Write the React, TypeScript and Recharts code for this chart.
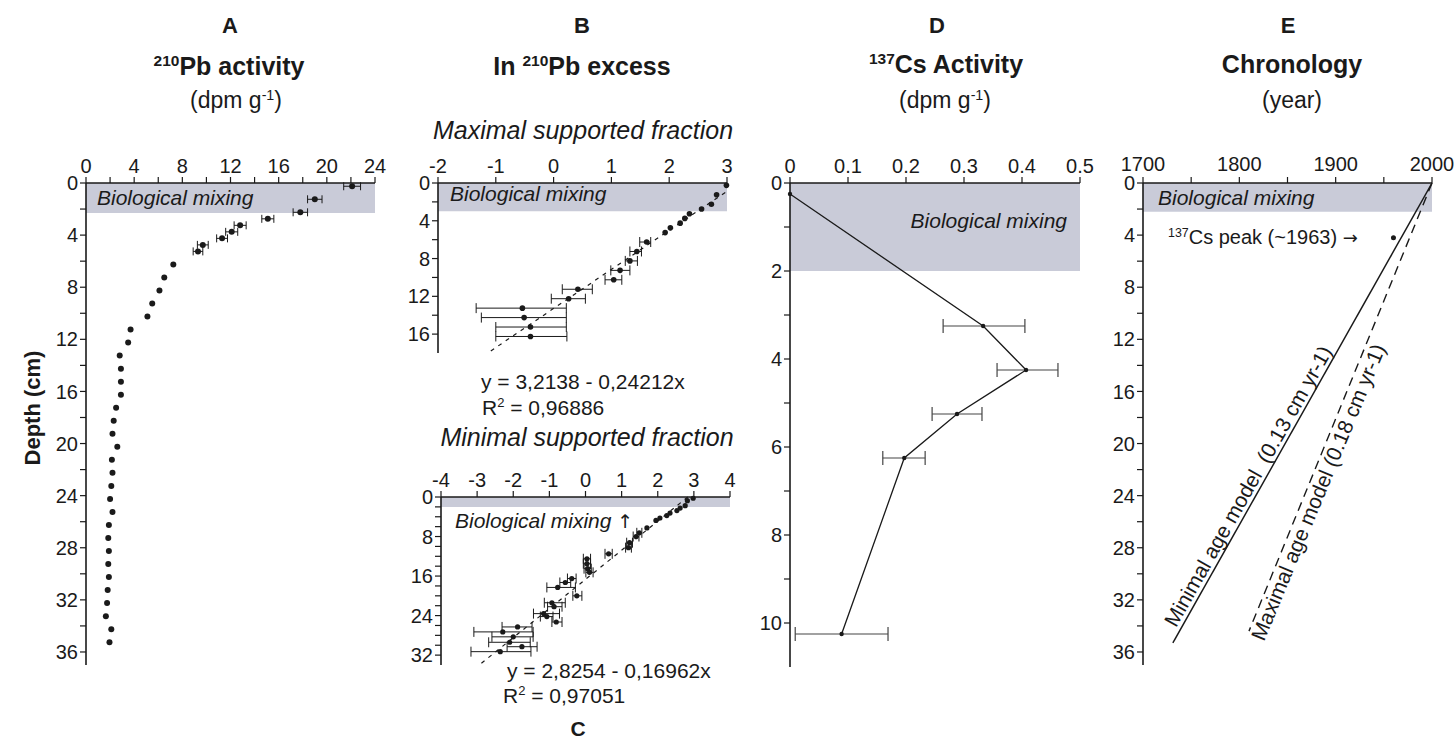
import React from "react";
import { ScatterChart, Scatter, XAxis, YAxis, ErrorBar, ReferenceArea } from "recharts";

const FONT = '"Liberation Sans", Arial, Helvetica, sans-serif';
const INK = "#1a1a1a";
const BAND = "#c9cbd8";

// A - 210Pb activity (dpm/g) vs depth (cm)
const depthA = [0.25, 1.25, 2.25, 2.75, 3.25, 3.75, 4.25, 4.75, 5.25, 6.25, 7.25, 8.25, 9.25, 10.25, 11.25, 12.25, 13.25, 14.25, 15.25, 16.25, 17.25, 18.25, 19.25, 20.25, 21.25, 22.25, 23.25, 24.25, 25.25, 26.25, 27.25, 28.25, 29.25, 30.25, 31.25, 32.25, 33.25, 34.25, 35.25];
const pbA = [22.1, 19.0, 17.8, 15.1, 12.8, 12.1, 11.3, 9.7, 9.3, 7.25, 6.5, 6.1, 5.5, 5.1, 3.7, 3.5, 2.8, 2.9, 2.9, 2.9, 2.5, 2.3, 2.2, 2.6, 2.15, 2.2, 2.1, 2.0, 2.2, 1.9, 1.85, 1.9, 1.85, 1.9, 1.8, 1.75, 1.65, 2.1, 1.95];
const errA = [0.7, 0.6, 0.6, 0.5, 0.5, 0.5, 0.45, 0.45, 0.4];
const ticksAx = [0, 2, 4, 6, 8, 10, 12, 14, 16, 18, 20, 22, 24];
const ticksDepth36 = [0, 2, 4, 6, 8, 10, 12, 14, 16, 18, 20, 22, 24, 26, 28, 30, 32, 34, 36];

// B - ln 210Pb excess, maximal supported fraction
const depthB = [0.25, 1.25, 2.25, 2.75, 3.25, 3.75, 4.25, 4.75, 5.25, 6.25, 7.25, 8.25, 9.25, 10.25, 11.25, 12.25, 13.25, 14.25, 15.25, 16.25];
const lnB = [2.99, 2.82, 2.73, 2.56, 2.35, 2.27, 2.19, 2.02, 1.93, 1.61, 1.44, 1.32, 1.15, 1.04, 0.42, 0.26, -0.54, -0.51, -0.4, -0.4];
const loB = [null, null, null, null, null, null, null, null, null, 1.49, 1.32, 1.24, 0.99, 0.89, 0.15, -0.04, -1.34, -1.25, -1.0, -1.0];
const hiB = [null, null, null, null, null, null, null, null, null, 1.68, 1.52, 1.45, 1.32, 1.18, 0.67, 0.55, 0.22, 0.22, 0.22, 0.23];
const fitBDepth = [1, 18];
const fitBLn = [2.97, -1.14];
const ticksBx = [-2, -1, 0, 1, 2, 3];
const ticksBy = [0, 2, 4, 6, 8, 10, 12, 14, 16];

// C - ln 210Pb excess, minimal supported fraction
const depthC = [0.25, 0.75, 1.75, 2.25, 2.75, 3.25, 3.75, 4.25, 4.75, 6.25, 7.25, 8.0, 9.25, 10.25, 11.5, 12.5, 13.5, 14.5, 15.25, 16.5, 17.3, 18.3, 20.0, 21.4, 22.2, 23.6, 24.2, 25.3, 26.3, 27.3, 28.3, 29.4, 30.3, 31.3];
const lnC = [2.98, 2.82, 2.76, 2.62, 2.53, 2.34, 2.25, 2.06, 1.95, 1.7, 1.49, 1.4, 1.22, 1.19, 0.64, 0.04, 0.04, 0.06, 0.11, -0.38, -0.56, -0.77, -0.24, -0.93, -0.87, -1.16, -1.07, -0.81, -1.88, -2.29, -2.0, -2.1, -1.76, -2.36];
const loC = [null, null, null, null, null, null, null, null, null, null, 1.42, 1.32, 1.14, 1.11, 0.54, -0.06, -0.06, -0.04, 0.01, -0.5, -0.71, -1.07, -0.35, -1.14, -1.05, -1.44, -1.25, -0.93, -2.31, -3.09, -2.59, -2.68, -2.17, -3.17];
const hiC = [null, null, null, null, null, null, null, null, null, null, 1.56, 1.48, 1.3, 1.27, 0.74, 0.14, 0.14, 0.16, 0.21, -0.26, -0.41, -0.28, -0.1, -0.56, -0.65, -0.72, -0.9, -0.65, -1.48, -1.45, -1.45, -1.53, -1.34, -1.51];
const fitCDepth = [0, 34];
const fitCLn = [2.83, -2.94];
const ticksCx = [-4, -3, -2, -1, 0, 1, 2, 3, 4];
const ticksCy = [0, 2, 4, 6, 8, 10, 12, 14, 16, 18, 20, 22, 24, 26, 28, 30, 32];

// D - 137Cs activity
const depthD = [0.25, 3.25, 4.25, 5.25, 6.25, 10.25];
const csD = [0, 0.333, 0.407, 0.288, 0.197, 0.089];
const loD = [null, 0.264, 0.357, 0.245, 0.16, 0.009];
const hiD = [null, 0.405, 0.462, 0.331, 0.233, 0.169];
const ticksDx = [0, 0.1, 0.2, 0.3, 0.4, 0.5];
const ticksDy = [0, 1, 2, 3, 4, 5, 6, 7, 8, 9, 10];

// E - chronology
const minYears = [2000, 1731];
const minDepth = [0, 35.3];
const maxYears = [2000, 1810];
const maxDepth = [0, 34.4];
const peakYear = [1960];
const peakDepth = [4.2];
const ticksEx = [1700, 1750, 1800, 1850, 1900, 1950, 2000];

const YW = 50;
const XH = 40;
const PADR = 30;
const PADB = 12;

const frame = (left: number, top: number, w: number, h: number) => ({
  style: { position: "absolute" as const, left: left - YW, top: top - XH },
  width: YW + w + PADR,
  height: XH + h + PADB,
});

const every = (n: number) => (v: number) => (Math.abs(v % n) < 1e-9 ? String(v) : "");

const axis = {
  axisLine: { stroke: INK, strokeWidth: 1.6 },
  tickLine: { stroke: INK, strokeWidth: 1.2 },
  tickSize: 6,
  tick: { fontSize: 20, fill: INK, fontFamily: FONT },
  interval: 0 as const,
};
// top axes: labels lifted a little
const topAxis = { ...axis, tick: { ...axis.tick, dy: -2 } };
const topAxisE = { ...axis, tick: { ...axis.tick, dy: -4 } };

const dot = (r: number) => (p: any) => <circle cx={p.cx} cy={p.cy} r={r} fill={INK} />;
const none = () => <g />;

const withErr = (xs: number[], ys: number[], lo: (number | null)[], hi: (number | null)[]) =>
  xs.map((x, i) => ({
    x,
    y: ys[i],
    ex: lo[i] == null || hi[i] == null ? null : [x - (lo[i] as number), (hi[i] as number) - x],
  }));

const pairs = (xs: number[], ys: number[]) => xs.map((x, i) => ({ x, y: ys[i] }));

const rowsA = depthA.map((d, i) => ({ x: pbA[i], y: d, ex: errA[i] ?? null }));
const rowsB = withErr(lnB, depthB, loB, hiB);
const rowsC = withErr(lnC, depthC, loC, hiC);
const rowsD = withErr(csD, depthD, loD, hiD);

const margin = { top: 0, left: 0, right: PADR, bottom: PADB };

function Txt({ x, y, children, size = 21, bold = false, italic = false, anchor = "middle", rotate = 0 }: any) {
  const tx = anchor === "middle" ? "-50%" : anchor === "end" ? "-100%" : "0";
  return (
    <div
      style={{
        position: "absolute",
        left: x,
        top: y,
        transform: `translate(${tx},-50%) rotate(${rotate}deg)`,
        fontSize: size,
        fontWeight: bold ? 700 : 400,
        fontStyle: italic ? "italic" : "normal",
        whiteSpace: "nowrap",
        lineHeight: 1,
        color: INK,
      }}
    >
      {children}
    </div>
  );
}

const sup = (s: string) => <sup style={{ fontSize: "0.62em", verticalAlign: "0.55em" }}>{s}</sup>;
const arrow = (s: string) => (
  <span style={{ fontFamily: '"DejaVu Sans", sans-serif', fontStyle: "normal", fontSize: "0.9em", color: INK }}>{s + "\uFE0E"}</span>
);

export default function App() {
  const fA = frame(86, 183, 289, 482);
  const fB = frame(438, 183, 289, 170);
  const fC = frame(441, 497, 289, 168);
  const fD = frame(790, 183, 290, 484);
  const fE = frame(1143, 183, 289, 482);

  return (
    <div style={{ position: "absolute", left: 0, top: 0, width: 1456, height: 741, background: "#fff", fontFamily: FONT }}>
      {/* A */}
      <div style={fA.style}>
        <ScatterChart width={fA.width} height={fA.height} margin={margin}>
          <XAxis type="number" dataKey="x" orientation="top" domain={[0, 24]} ticks={ticksAx} tickFormatter={every(4)} height={XH} {...topAxis} />
          <YAxis type="number" dataKey="y" reversed domain={[0, 37]} ticks={ticksDepth36} tickFormatter={every(4)} width={YW} {...axis} />
          <ReferenceArea x1={0} x2={24} y1={0} y2={2.3} fill={BAND} fillOpacity={1} stroke="none" />
          <Scatter data={rowsA} shape={dot(3)} isAnimationActive={false}>
            <ErrorBar dataKey="ex" direction="x" width={4} stroke={INK} strokeWidth={1} isAnimationActive={false} />
          </Scatter>
        </ScatterChart>
      </div>

      {/* B */}
      <div style={fB.style}>
        <ScatterChart width={fB.width} height={fB.height} margin={margin}>
          <XAxis type="number" dataKey="x" orientation="top" domain={[-2, 3]} ticks={ticksBx} height={XH} {...topAxis} />
          <YAxis type="number" dataKey="y" reversed domain={[0, 18]} ticks={ticksBy} tickFormatter={every(4)} width={YW} {...axis} />
          <ReferenceArea x1={-2} x2={3} y1={0} y2={3} fill={BAND} fillOpacity={1} stroke="none" />
          <Scatter data={pairs(fitBLn, fitBDepth)} shape={none} line={{ stroke: INK, strokeWidth: 1.2, strokeDasharray: "4 5" }} isAnimationActive={false} />
          <Scatter data={rowsB} shape={dot(2.8)} isAnimationActive={false}>
            <ErrorBar dataKey="ex" direction="x" width={5} stroke={INK} strokeWidth={1} isAnimationActive={false} />
          </Scatter>
        </ScatterChart>
      </div>

      {/* C */}
      <div style={fC.style}>
        <ScatterChart width={fC.width} height={fC.height} margin={margin}>
          <XAxis type="number" dataKey="x" orientation="top" domain={[-4, 4]} ticks={ticksCx} height={XH} {...topAxis} />
          <YAxis type="number" dataKey="y" reversed domain={[0, 34]} ticks={ticksCy} tickFormatter={every(8)} width={YW} {...axis} />
          <ReferenceArea x1={-4} x2={4} y1={0} y2={2} fill={BAND} fillOpacity={1} stroke="none" />
          <Scatter data={pairs(fitCLn, fitCDepth)} shape={none} line={{ stroke: INK, strokeWidth: 1.2, strokeDasharray: "4 5" }} isAnimationActive={false} />
          <Scatter data={rowsC} shape={dot(2.6)} isAnimationActive={false}>
            <ErrorBar dataKey="ex" direction="x" width={5} stroke={INK} strokeWidth={1} isAnimationActive={false} />
          </Scatter>
        </ScatterChart>
      </div>

      {/* D */}
      <div style={fD.style}>
        <ScatterChart width={fD.width} height={fD.height} margin={margin}>
          <XAxis type="number" dataKey="x" orientation="top" domain={[0, 0.5]} ticks={ticksDx} height={XH} {...topAxis} />
          <YAxis type="number" dataKey="y" reversed domain={[0, 11]} ticks={ticksDy} tickFormatter={every(2)} width={YW} {...axis} />
          <ReferenceArea x1={0} x2={0.5} y1={0} y2={2} fill={BAND} fillOpacity={1} stroke="none" />
          <Scatter data={rowsD} shape={dot(2.2)} line={{ stroke: INK, strokeWidth: 1.3 }} isAnimationActive={false}>
            <ErrorBar dataKey="ex" direction="x" width={7} stroke="#444" strokeWidth={1.2} isAnimationActive={false} />
          </Scatter>
        </ScatterChart>
      </div>

      {/* E */}
      <div style={fE.style}>
        <ScatterChart width={fE.width} height={fE.height} margin={margin}>
          <XAxis type="number" dataKey="x" orientation="top" domain={[1700, 2000]} ticks={ticksEx} tickFormatter={every(100)} height={XH} {...topAxisE} />
          <YAxis type="number" dataKey="y" reversed domain={[0, 37]} ticks={ticksDepth36} tickFormatter={every(4)} width={YW} {...axis} />
          <ReferenceArea x1={1700} x2={2000} y1={0} y2={2.2} fill={BAND} fillOpacity={1} stroke="none" />
          <Scatter data={pairs(minYears, minDepth)} shape={none} line={{ stroke: INK, strokeWidth: 1.5 }} isAnimationActive={false} />
          <Scatter data={pairs(maxYears, maxDepth)} shape={none} line={{ stroke: INK, strokeWidth: 1.4, strokeDasharray: "9 6" }} isAnimationActive={false} />
          <Scatter data={pairs(peakYear, peakDepth)} shape={dot(2.5)} isAnimationActive={false} />
        </ScatterChart>
      </div>

      {/* titles */}
      <Txt x={230} y={26} size={22} bold>A</Txt>
      <Txt x={229} y={66} size={25} bold>{sup("210")}Pb activity</Txt>
      <Txt x={236} y={100} size={23}>(dpm g{sup("-1")})</Txt>

      <Txt x={582} y={26} size={22} bold>B</Txt>
      <Txt x={582} y={66} size={25} bold>In {sup("210")}Pb excess</Txt>
      <Txt x={583} y={130} size={25} italic>Maximal supported fraction</Txt>
      <Txt x={587} y={437} size={25} italic>Minimal supported fraction</Txt>
      <Txt x={578} y={728} size={21} bold>C</Txt>

      <Txt x={937} y={26} size={22} bold>D</Txt>
      <Txt x={946} y={64} size={25} bold>{sup("137")}Cs Activity</Txt>
      <Txt x={945} y={100} size={23}>(dpm g{sup("-1")})</Txt>

      <Txt x={1288} y={26} size={22} bold>E</Txt>
      <Txt x={1292} y={64} size={25} bold>Chronology</Txt>
      <Txt x={1292} y={100} size={23}>(year)</Txt>

      <Txt x={33} y={408} size={22} bold rotate={-90}>Depth (cm)</Txt>

      {/* band labels */}
      <Txt x={97} y={197} italic anchor="start">Biological mixing</Txt>
      <Txt x={450} y={193} italic anchor="start">Biological mixing</Txt>
      <Txt x={455} y={520} italic anchor="start">Biological mixing {arrow("↑")}</Txt>
      <Txt x={1067} y={220} italic anchor="end">Biological mixing</Txt>
      <Txt x={1158} y={197} italic anchor="start">Biological mixing</Txt>

      {/* regression equations */}
      <Txt x={481} y={381} anchor="start">y = 3,2138 - 0,24212x</Txt>
      <Txt x={482} y={407} anchor="start">R{sup("2")} = 0,96886</Txt>
      <Txt x={507} y={670} anchor="start">y = 2,8254 - 0,16962x</Txt>
      <Txt x={503} y={695} anchor="start">R{sup("2")} = 0,97051</Txt>

      {/* chronology annotations */}
      <Txt x={1168} y={237} size={20} anchor="start">{sup("137")}Cs peak (~1963) {arrow("→")}</Txt>
      <Txt x={1248} y={486} size={21} rotate={-60.5}>Minimal age model&nbsp;&nbsp;(0.13 cm yr-1)</Txt>
      <Txt x={1318} y={492} size={21} rotate={-67.5}>Maximal age model (0.18 cm yr-1)</Txt>
    </div>
  );
}
